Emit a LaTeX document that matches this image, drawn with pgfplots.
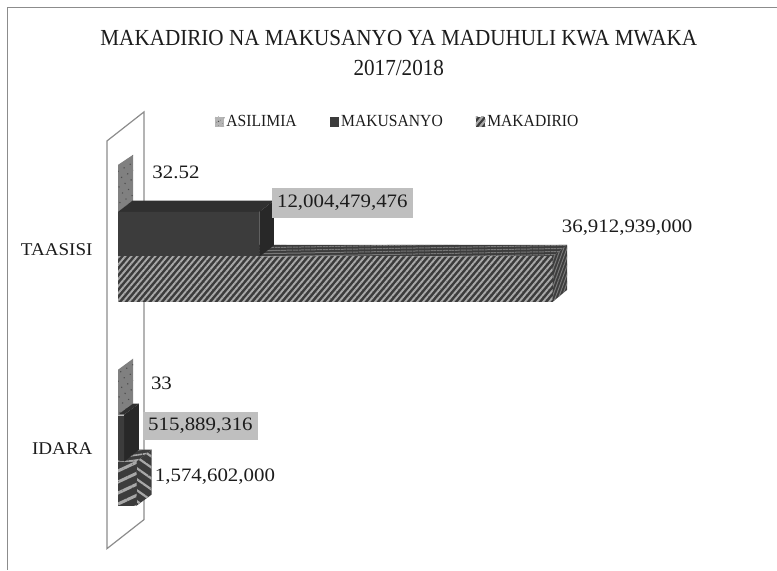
\documentclass[border=0pt]{standalone}
\usepackage{fontspec}
\setmainfont{Liberation Serif}[FakeStretch=1.06]
\newfontfamily\narrowfont{Liberation Serif}[FakeStretch=0.92]
\newfontfamily\valfont{Liberation Serif}[FakeStretch=1.1]
\usepackage{pgfplots}
\pgfplotsset{compat=1.18}
\usetikzlibrary{patterns.meta}
\definecolor{txt}{HTML}{1C1C1C}
\definecolor{wallc}{HTML}{8C8C8C}
\definecolor{boxc}{HTML}{BFBFBF}
\definecolor{kuf}{HTML}{3C3C3C}
\definecolor{kut}{HTML}{303030}
\definecolor{kus}{HTML}{282828}
\definecolor{asi}{HTML}{808080}
\definecolor{asiL}{HTML}{B4B4B4}
\definecolor{stripeD}{HTML}{3C3C3C}
\definecolor{stripeL}{HTML}{A8A8A8}
\definecolor{stripeM}{HTML}{787878}
\tikzset{
  asilimia/.style={fill=asi,postaction={pattern={Dots[radius=0.8pt,distance=7pt,angle=30,xshift=1pt]},pattern color=black!70}},
  asileg/.style={fill=asiL,postaction={pattern={Dots[radius=0.6pt,distance=4pt,angle=30]},pattern color=black!60}},
  makus/.style={fill=kuf},
  stripefront/.style={fill=stripeD,postaction={pattern={Lines[angle=50,distance=4.6pt,line width=1.9pt]},pattern color=stripeL}},
  stripetop/.style={fill=stripeD,postaction={pattern={Lines[angle=1,distance=3pt,line width=1pt]},pattern color=stripeM}},
  stripeside/.style={fill=stripeD,postaction={pattern={Lines[angle=70,distance=3pt,line width=1pt]},pattern color=stripeM}},
  bigfront/.style={fill=stripeD,postaction={pattern={Lines[angle=25,distance=10pt,line width=3pt]},pattern color=stripeL}},
  bigtop/.style={fill=stripeD,postaction={pattern={Lines[angle=8,distance=5pt,line width=1.6pt]},pattern color=stripeL}},
  bigside/.style={fill=stripeD,postaction={pattern={Lines[angle=-35,distance=9pt,line width=2.2pt]},pattern color=stripeL}},
  val/.style={font=\valfont\fontsize{19}{22}\selectfont,text=txt,inner sep=0pt},
  valbox/.style={val,fill=boxc,align=center,anchor=center}
}
\pgfplotsset{swatch/.style={/pgfplots/legend image code/.code={\path[#1,draw=none] (0pt,-5pt) rectangle (9.5pt,5pt);}}}
\begin{document}
\begin{tikzpicture}
\begin{axis}[
  scale only axis, width=777pt, height=570pt,
  xmin=-10.0131e9, xmax=55.9208e9, ymin=0, ymax=570, y dir=reverse,
  clip=false,
  axis line style={draw=none},
  xtick=\empty,
  ytick={250,449}, yticklabels={TAASISI,IDARA},
  major tick length=0pt,
  yticklabel style={anchor=east,xshift=96pt,font=\fontsize{18}{20}\selectfont,text=txt},
  legend style={at={(0.2767,0.786)},anchor=west,draw=none,fill=none,inner sep=0pt,outer sep=0pt,
    font=\narrowfont\fontsize{17}{20}\selectfont,text=txt,legend columns=3,
    /tikz/every even column/.append style={column sep=31pt}},
  legend cell align=left,
]
% chart frame
\addplot[forget plot,draw=wallc,line width=1pt] coordinates {(-9.3767e9,570) (-9.3767e9,8) (55.92e9,8)};
% back wall
\addplot[forget plot,draw=wallc,line width=1.2pt,fill=white] coordinates {(-0.933e9,141) (2.206e9,112) (2.206e9,520) (-0.933e9,549)} --cycle;

% ASILIMIA sides
\addplot[forget plot,draw=none,asilimia] coordinates {(0,165) (1.273e9,155) (1.273e9,201) (0,212)} --cycle;
\addplot[forget plot,draw=none,asilimia] coordinates {(0,370) (1.273e9,359) (1.273e9,405) (0,415)} --cycle;
\addplot[xbar,bar shift=0pt,bar width=45pt,draw=none,asilimia,swatch=asileg] coordinates {(32.52,188.5) (33,392.5)};
\addlegendentry{ASILIMIA}

% MAKADIRIO top and side
\addplot[forget plot,draw=none,stripetop] coordinates {(0,257) (36.913e9,257) (38.143e9,245) (1.188e9,245)} --cycle;
\addplot[forget plot,draw=none,stripeside] coordinates {(36.913e9,257) (38.143e9,245) (38.143e9,290) (36.913e9,302)} --cycle;
\addplot[forget plot,draw=none,bigtop] coordinates {(0,462) (1.575e9,462) (2.851e9,450) (1.273e9,450)} --cycle;
\addplot[forget plot,draw=none,bigside] coordinates {(1.575e9,462) (2.851e9,450) (2.851e9,495) (1.575e9,506)} --cycle;

% MAKUSANYO top and side
\addplot[forget plot,draw=none,fill=kut] coordinates {(0,212) (12.004e9,212) (13.238e9,200.7) (1.25e9,200.7)} --cycle;
\addplot[forget plot,draw=none,fill=kus] coordinates {(12.004e9,212) (13.238e9,200.7) (13.238e9,245.5) (12.004e9,257)} --cycle;
\addplot[forget plot,draw=none,fill=kut] coordinates {(0,415) (0.516e9,415) (1.782e9,404) (1.273e9,404)} --cycle;
\addplot[forget plot,draw=none,fill=kus] coordinates {(0.516e9,415) (1.782e9,404) (1.782e9,450) (0.516e9,462)} --cycle;
\addplot[xbar,bar shift=0pt,bar width=45pt,draw=none,fill=kuf,swatch=makus] coordinates {(12004479476,234.5) (515889316,438.5)};
\addlegendentry{MAKUSANYO}

% MAKADIRIO fronts
\addplot[xbar,bar shift=0pt,bar width=45pt,draw=none,stripefront,swatch=stripefront] coordinates {(36912939000,279.5)};
\addlegendentry{MAKADIRIO}
\addplot[forget plot,xbar,bar shift=0pt,bar width=44pt,draw=none,bigfront] coordinates {(1574602000,484)};

% title and value labels
\node[align=center,text=txt,font=\narrowfont\fontsize{23}{30}\selectfont] at (axis cs:23.845e9,53) {MAKADIRIO NA MAKUSANYO YA MADUHULI KWA MWAKA\\2017/2018};
\node[val] at (axis cs:4.922e9,172) {32.52};
\node[valbox,minimum width=141pt,minimum height=30pt] at (axis cs:19.05e9,203) {12,004,479,476};
\node[val] at (axis cs:43.235e9,228) {36,912,939,000};
\node[val] at (axis cs:3.691e9,384) {33};
\node[valbox,minimum width=115pt,minimum height=28pt] at (axis cs:7.0e9,426) {515,889,316};
\node[val] at (axis cs:8.231e9,477) {1,574,602,000};
\end{axis}
\end{tikzpicture}
\end{document}
